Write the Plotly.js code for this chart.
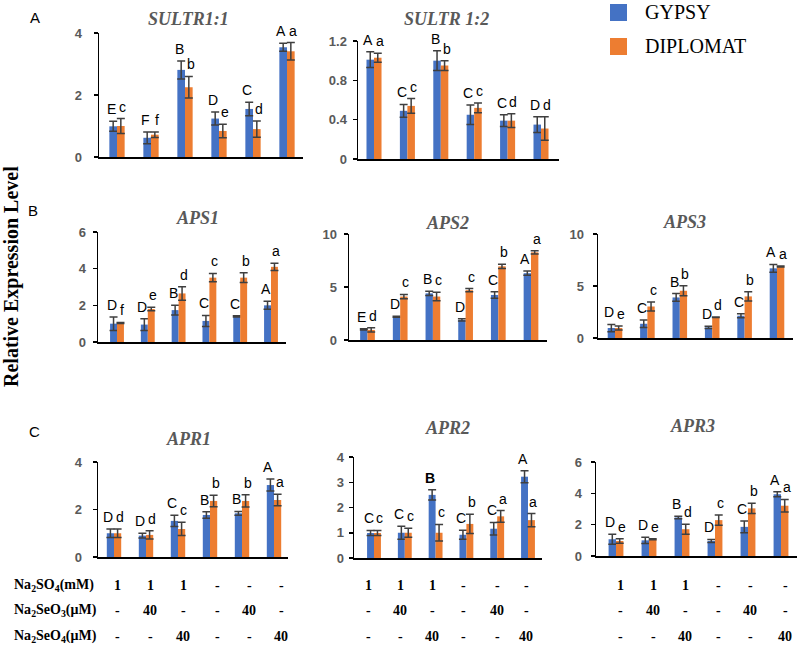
<!DOCTYPE html>
<html>
<head>
<meta charset="utf-8">
<script src="https://cdn.plot.ly/plotly-3.0.1.min.js"></script>
<style>html,body{margin:0;padding:0;background:#fff;}#chart{width:800px;height:646px;}</style>
</head>
<body>
<div id="chart"></div>
<script>
// ---------- data ----------
const categories = ['Na2SO4', 'Na2SO4 + Na2SeO3', 'Na2SO4 + Na2SeO4', 'Control', 'Na2SeO3', 'Na2SeO4'];
const seriesNames = ['GYPSY', 'DIPLOMAT'];

const sultr11Gypsy = [0.99, 0.62, 2.81, 1.24, 1.55, 3.54];
const sultr11GypsyErr = [0.16, 0.19, 0.29, 0.21, 0.22, 0.13];
const sultr11Diplomat = [1.0, 0.72, 2.25, 0.84, 0.9, 3.41];
const sultr11DiplomatErr = [0.24, 0.09, 0.35, 0.22, 0.26, 0.28];
const sultr11GypsyLetters = ['E', 'F', 'B', 'D', 'C', 'A'];
const sultr11DiplomatLetters = ['c', 'f', 'b', 'e', 'd', 'a'];

const sultr12Gypsy = [1.01, 0.49, 1.0, 0.45, 0.39, 0.35];
const sultr12GypsyErr = [0.08, 0.065, 0.1, 0.1, 0.06, 0.08];
const sultr12Diplomat = [1.03, 0.54, 0.95, 0.52, 0.39, 0.31];
const sultr12DiplomatErr = [0.045, 0.075, 0.05, 0.05, 0.07, 0.12];
const sultr12GypsyLetters = ['A', 'C', 'B', 'C', 'C', 'D'];
const sultr12DiplomatLetters = ['a', 'c', 'b', 'c', 'd', 'd'];

const aps1Gypsy = [1.0, 0.95, 1.74, 1.15, 1.4, 2.0];
const aps1GypsyErr = [0.37, 0.32, 0.27, 0.3, 0.03, 0.22];
const aps1Diplomat = [1.04, 1.8, 2.65, 3.51, 3.51, 4.1];
const aps1DiplomatErr = [0.03, 0.1, 0.37, 0.23, 0.27, 0.2];
const aps1GypsyLetters = ['D', 'D', 'B', 'C', 'C', 'A'];
const aps1DiplomatLetters = ['f', 'e', 'd', 'c', 'b', 'a'];

const aps2Gypsy = [1.0, 2.2, 4.4, 1.9, 4.25, 6.3];
const aps2GypsyErr = [0.05, 0.05, 0.2, 0.1, 0.3, 0.2];
const aps2Diplomat = [0.95, 4.1, 4.1, 4.7, 6.95, 8.27];
const aps2DiplomatErr = [0.2, 0.2, 0.4, 0.15, 0.2, 0.16];
const aps2GypsyLetters = ['E', 'D', 'B', 'D', 'C', 'A'];
const aps2DiplomatLetters = ['d', 'c', 'c', 'c', 'b', 'a'];

const aps3Gypsy = [0.96, 1.37, 3.9, 1.02, 2.14, 6.7];
const aps3GypsyErr = [0.35, 0.35, 0.37, 0.1, 0.2, 0.37];
const aps3Diplomat = [0.96, 3.03, 4.54, 2.0, 4.0, 6.87];
const aps3DiplomatErr = [0.2, 0.43, 0.48, 0.03, 0.45, 0.05];
const aps3GypsyLetters = ['D', 'C', 'B', 'D', 'C', 'A'];
const aps3DiplomatLetters = ['e', 'c', 'b', 'd', 'b', 'a'];

const apr1Gypsy = [1.0, 0.9, 1.52, 1.77, 1.84, 3.03];
const apr1GypsyErr = [0.18, 0.1, 0.24, 0.14, 0.08, 0.25];
const apr1Diplomat = [1.0, 0.93, 1.18, 2.36, 2.36, 2.4];
const apr1DiplomatErr = [0.18, 0.17, 0.28, 0.24, 0.26, 0.24];
const apr1GypsyLetters = ['D', 'D', 'C', 'B', 'B', 'A'];
const apr1DiplomatLetters = ['d', 'd', 'c', 'b', 'b', 'a'];

const apr2Gypsy = [0.99, 1.0, 2.5, 0.92, 1.16, 3.22];
const apr2GypsyErr = [0.1, 0.26, 0.2, 0.18, 0.25, 0.24];
const apr2Diplomat = [0.99, 1.0, 1.0, 1.35, 1.65, 1.5];
const apr2DiplomatErr = [0.1, 0.18, 0.33, 0.38, 0.23, 0.26];
const apr2GypsyLetters = ['C', 'C', 'B', 'C', 'C', 'A'];
const apr2DiplomatLetters = ['c', 'c', 'c', 'b', 'a', 'a'];

const apr3Gypsy = [1.07, 1.0, 2.46, 0.96, 1.86, 3.94];
const apr3GypsyErr = [0.32, 0.2, 0.08, 0.1, 0.38, 0.16];
const apr3Diplomat = [0.96, 1.07, 1.71, 2.29, 3.04, 3.21];
const apr3DiplomatErr = [0.14, 0.03, 0.32, 0.32, 0.32, 0.4];
const apr3GypsyLetters = ['D', 'D', 'B', 'D', 'C', 'A'];
const apr3DiplomatLetters = ['e', 'e', 'd', 'c', 'b', 'a'];

const tableRowLabels = ['Na<sub>2</sub>SO<sub>4</sub>(mM)', 'Na<sub>2</sub>SeO<sub>3</sub>(μM)', 'Na<sub>2</sub>SeO<sub>4</sub>(μM)'];
const sulfateRow = ['1', '1', '1', '-', '-', '-'];
const seleniteRow = ['-', '40', '-', '-', '40', '-'];
const selenateRow = ['-', '-', '40', '-', '-', '40'];

const yAxisTitle = 'Relative Expression Level';
const panelLetters = ['A', 'B', 'C'];

// ---------- layout geometry (pixels) ----------
const W = 800, H = 646;
const panels = [
  {gene: 'SULTR1:1', g: sultr11Gypsy, ge: sultr11GypsyErr, d: sultr11Diplomat, de: sultr11DiplomatErr, gl: sultr11GypsyLetters, dl: sultr11DiplomatLetters,
   x0: 99, x1: 303, c1: 117, c6: 287, yTop: 33, yBot: 157, ymax: 4, dtick: 2, tx: 188, ty: 19, so: 9},
  {gene: 'SULTR 1:2', g: sultr12Gypsy, ge: sultr12GypsyErr, d: sultr12Diplomat, de: sultr12DiplomatErr, gl: sultr12GypsyLetters, dl: sultr12DiplomatLetters,
   x0: 358, x1: 559, c1: 374, c6: 541, yTop: 41, yBot: 159, ymax: 1.2, dtick: 0.4, tx: 446, ty: 19, so: 3},
  {gene: 'APS1', g: aps1Gypsy, ge: aps1GypsyErr, d: aps1Diplomat, de: aps1DiplomatErr, gl: aps1GypsyLetters, dl: aps1DiplomatLetters,
   x0: 98, x1: 286, c1: 117, c6: 271, yTop: 232, yBot: 342, ymax: 6, dtick: 2, tx: 197, ty: 218, so: 4},
  {gene: 'APS2', g: aps2Gypsy, ge: aps2GypsyErr, d: aps2Diplomat, de: aps2DiplomatErr, gl: aps2GypsyLetters, dl: aps2DiplomatLetters,
   x0: 349, x1: 547, c1: 367.5, c6: 531, yTop: 234, yBot: 340, ymax: 10, dtick: 5, tx: 447, ty: 223, so: 4},
  {gene: 'APS3', g: aps3Gypsy, ge: aps3GypsyErr, d: aps3Diplomat, de: aps3DiplomatErr, gl: aps3GypsyLetters, dl: aps3DiplomatLetters,
   x0: 598, x1: 793, c1: 615, c6: 777, yTop: 234, yBot: 338, ymax: 10, dtick: 5, tx: 684, ty: 222, so: 6},
  {gene: 'APR1', g: apr1Gypsy, ge: apr1GypsyErr, d: apr1Diplomat, de: apr1DiplomatErr, gl: apr1GypsyLetters, dl: apr1DiplomatLetters,
   x0: 98, x1: 288, c1: 114, c6: 274, yTop: 462, yBot: 557, ymax: 4, dtick: 2, tx: 188, ty: 439, so: 8},
  {gene: 'APR2', g: apr2Gypsy, ge: apr2GypsyErr, d: apr2Diplomat, de: apr2DiplomatErr, gl: apr2GypsyLetters, dl: apr2DiplomatLetters,
   x0: 354, x1: 542, c1: 374, c6: 528, yTop: 457, yBot: 558, ymax: 4, dtick: 1, tx: 447, ty: 428, so: 2},
  {gene: 'APR3', g: apr3Gypsy, ge: apr3GypsyErr, d: apr3Diplomat, de: apr3DiplomatErr, gl: apr3GypsyLetters, dl: apr3DiplomatLetters,
   x0: 596, x1: 797, c1: 616, c6: 781, yTop: 462, yBot: 556, ymax: 6, dtick: 2, tx: 692, ty: 426, so: 6}
];
const tableColumns = [
  [117, 150, 183, 217, 249, 281],
  [368, 400, 432, 463, 497, 526],
  [620, 653, 685, 718, 750, 785]
];
const tableRowY = [585, 610, 636];

const BLUE = '#4472C4', ORANGE = '#ED7D31', ERR = '#3f3f3f', TICK = '#595959';
const BARGAP = 0.55;
const half = (1 - BARGAP) / 4; // center offset of each bar within group

const px = v => v / W;
const py = v => 1 - v / H;

const traces = [];
const layout = {
  width: W, height: H,
  margin: {l: 0, r: 0, t: 0, b: 0},
  paper_bgcolor: '#ffffff', plot_bgcolor: 'rgba(0,0,0,0)',
  barmode: 'group', bargap: BARGAP, bargroupgap: 0,
  showlegend: false,
  annotations: [], shapes: []
};

panels.forEach((p, i) => {
  const n = i + 1;
  const xa = 'x' + (n === 1 ? '' : n), ya = 'y' + (n === 1 ? '' : n);
  const unit = (p.c6 - p.c1) / 5;
  const range = [-(p.c1 - p.x0) / unit, 5 + (p.x1 - p.c6) / unit];
  [[p.g, p.ge, BLUE, seriesNames[0]], [p.d, p.de, ORANGE, seriesNames[1]]].forEach(s => {
    traces.push({
      type: 'bar', x: categories, y: s[0], name: s[3], xaxis: xa, yaxis: ya,
      marker: {color: s[2], line: {width: 0}},
      error_y: {type: 'data', array: s[1], visible: true, color: ERR, thickness: 1.5, width: 4},
      hoverinfo: 'y'
    });
  });
  layout['xaxis' + (n === 1 ? '' : n)] = {
    domain: [px(p.x0), px(p.x1)], anchor: ya, range: range, type: 'category',
    showline: true, linecolor: '#000', linewidth: 1.5, showticklabels: false, ticks: '',
    showgrid: false, zeroline: false, fixedrange: true
  };
  layout['yaxis' + (n === 1 ? '' : n)] = {
    domain: [py(p.yBot), py(p.yTop)], anchor: xa, range: [0, p.ymax], dtick: p.dtick, tick0: 0,
    showline: true, linecolor: '#000', linewidth: 1.5, ticks: 'outside', ticklen: 4, tickwidth: 1.5, tickcolor: '#000',
    ticklabelstandoff: p.so,
    tickfont: {family: 'Liberation Sans, Arial, sans-serif', size: 13, color: TICK, weight: 'bold'},
    showgrid: false, zeroline: false, fixedrange: true
  };
  // title
  layout.annotations.push({
    xref: 'paper', yref: 'paper', x: px(p.tx), y: py(p.ty), xanchor: 'center', yanchor: 'middle',
    text: '<b><i>' + p.gene + '</i></b>', showarrow: false,
    font: {family: 'Liberation Serif, Times New Roman, serif', size: 18, color: TICK}
  });
  // significance letters
  for (let k = 0; k < categories.length; k++) {
    [[p.g, p.ge, p.gl, -half, -2], [p.d, p.de, p.dl, half, 2]].forEach(s => {
      let t = s[2][k];
      if (p.gene === 'APR2' && k === 2 && s[3] < 0) t = '<b>' + t + '</b>';
      layout.annotations.push({
        xref: xa, yref: ya, x: k + s[3], y: s[0][k] + s[1][k], xanchor: 'center', yanchor: 'bottom',
        xshift: s[4], yshift: 2, text: t, showarrow: false,
        font: {family: 'Liberation Sans, Arial, sans-serif', size: 14, color: '#000'}
      });
    });
  }
});

// y axis title
layout.annotations.push({
  xref: 'paper', yref: 'paper', x: px(11), y: py(277), xanchor: 'center', yanchor: 'middle',
  text: '<b>' + yAxisTitle + '</b>', textangle: -90, showarrow: false,
  font: {family: 'Liberation Serif, Times New Roman, serif', size: 20, color: '#000'}
});
// panel letters
[[35, 18], [33, 210], [34, 432]].forEach((pos, i) => {
  layout.annotations.push({
    xref: 'paper', yref: 'paper', x: px(pos[0]), y: py(pos[1]), xanchor: 'center', yanchor: 'middle',
    text: panelLetters[i], showarrow: false,
    font: {family: 'Liberation Sans, Arial, sans-serif', size: 15, color: '#000'}
  });
});
// legend (manual)
[[BLUE, 4, seriesNames[0]], [ORANGE, 38, seriesNames[1]]].forEach(l => {
  layout.shapes.push({type: 'rect', xref: 'paper', yref: 'paper',
    x0: px(610), x1: px(627), y0: py(l[1] + 17), y1: py(l[1]), fillcolor: l[0], line: {width: 0}});
  layout.annotations.push({xref: 'paper', yref: 'paper', x: px(643), y: py(l[1] + 8), xanchor: 'left', yanchor: 'middle',
    text: l[2], showarrow: false, font: {family: 'Liberation Serif, Times New Roman, serif', size: 20, color: '#000'}});
});
// treatment table
const tableFont = {family: 'Liberation Serif, Times New Roman, serif', size: 14, color: '#000'};
tableRowLabels.forEach((lab, r) => {
  layout.annotations.push({xref: 'paper', yref: 'paper', x: px(12), y: py(tableRowY[r]), xanchor: 'left', yanchor: 'middle',
    text: '<b>' + lab + '</b>', showarrow: false, font: tableFont});
});
[sulfateRow, seleniteRow, selenateRow].forEach((row, r) => {
  tableColumns.forEach(cols => {
    row.forEach((v, k) => {
      layout.annotations.push({xref: 'paper', yref: 'paper', x: px(cols[k]), y: py(tableRowY[r]), xanchor: 'center', yanchor: 'middle',
        text: '<b>' + v + '</b>', showarrow: false, font: tableFont});
    });
  });
});

Plotly.newPlot('chart', traces, layout, {staticPlot: true, displayModeBar: false});
</script>
</body>
</html>
